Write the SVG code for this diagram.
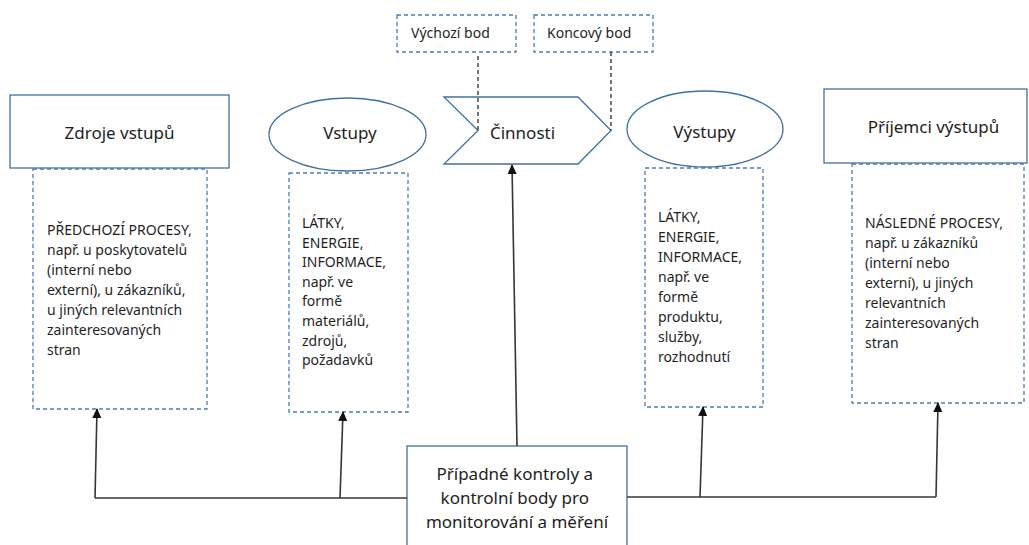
<svg xmlns="http://www.w3.org/2000/svg" width="1029" height="545" viewBox="0 0 1029 545">
  <defs>
    <style>
      .shape { fill: #ffffff; stroke: #41719c; stroke-width: 1.3; }
      .note { fill: none; stroke: #4a7cb6; stroke-width: 1.3; stroke-dasharray: 4 3; }
      .title { font-family: "Noto Sans", "Open Sans", sans-serif; font-size: 17px; fill: #1e1e1e; text-anchor: middle; }
      .body { font-family: "Noto Sans", "Open Sans", sans-serif; font-size: 14px; fill: #1f1f1f; }
      .wire { fill: none; stroke: #363636; stroke-width: 1.6; }
      .point { fill: none; stroke: #2b2b2b; stroke-width: 1.3; stroke-dasharray: 4 3; }
    </style>
    <marker id="arrow" viewBox="0 0 10 10" refX="9" refY="5" markerWidth="10" markerHeight="10" markerUnits="userSpaceOnUse" orient="auto">
      <path d="M0,0.5 L10,5 L0,9.5 z" fill="#111111"/>
    </marker>
  </defs>
  <rect width="1029" height="545" fill="#ffffff"/>

  <!-- start / end point labels -->
  <g id="start-point">
    <rect class="note" x="397" y="15" width="119" height="37"/>
    <text class="body" x="411" y="38">Výchozí bod</text>
  </g>
  <g id="end-point">
    <rect class="note" x="534" y="15" width="119" height="37"/>
    <text class="body" x="547" y="38">Koncový bod</text>
  </g>

  <!-- column 1: sources of inputs -->
  <g id="sources">
    <rect class="shape" x="10" y="95" width="219" height="73"/>
    <text class="title" x="119.5" y="139">Zdroje vstupů</text>
  </g>
  <g id="sources-detail">
    <rect class="note" x="33" y="169" width="174" height="240"/>
    <text class="body" x="47">
      <tspan x="47" y="235">PŘEDCHOZÍ PROCESY,</tspan>
      <tspan x="47" y="255">např. u poskytovatelů</tspan>
      <tspan x="47" y="275">(interní nebo</tspan>
      <tspan x="47" y="295">externí), u zákazníků,</tspan>
      <tspan x="47" y="315">u jiných relevantních</tspan>
      <tspan x="47" y="335">zainteresovaných</tspan>
      <tspan x="47" y="355">stran</tspan>
    </text>
  </g>

  <!-- column 2: inputs -->
  <g id="inputs">
    <ellipse class="shape" cx="347.5" cy="134.5" rx="78.5" ry="36.5"/>
    <text class="title" x="350" y="139">Vstupy</text>
  </g>
  <g id="inputs-detail">
    <rect class="note" x="289" y="173" width="119" height="239"/>
    <text class="body">
      <tspan x="302" y="228">LÁTKY,</tspan>
      <tspan x="302" y="247.6">ENERGIE,</tspan>
      <tspan x="302" y="267.2">INFORMACE,</tspan>
      <tspan x="302" y="286.8">např. ve</tspan>
      <tspan x="302" y="306.4">formě</tspan>
      <tspan x="302" y="326">materiálů,</tspan>
      <tspan x="302" y="345.6">zdrojů,</tspan>
      <tspan x="302" y="365.2">požadavků</tspan>
    </text>
  </g>

  <!-- column 3: activities -->
  <g id="activities">
    <polygon class="shape" points="444,97 578,97 611,130.5 578,164 444,164 478,130.5"/>
    <text class="title" x="522.5" y="139">Činnosti</text>
  </g>

  <!-- column 4: outputs -->
  <g id="outputs">
    <ellipse class="shape" cx="705" cy="129" rx="78" ry="38"/>
    <text class="title" x="704.5" y="138">Výstupy</text>
  </g>
  <g id="outputs-detail">
    <rect class="note" x="645" y="168" width="118" height="239"/>
    <text class="body">
      <tspan x="658" y="222">LÁTKY,</tspan>
      <tspan x="658" y="242">ENERGIE,</tspan>
      <tspan x="658" y="262">INFORMACE,</tspan>
      <tspan x="658" y="282">např. ve</tspan>
      <tspan x="658" y="302">formě</tspan>
      <tspan x="658" y="322">produktu,</tspan>
      <tspan x="658" y="342">služby,</tspan>
      <tspan x="658" y="362">rozhodnutí</tspan>
    </text>
  </g>

  <!-- column 5: receivers of outputs -->
  <g id="receivers">
    <rect class="shape" x="824" y="89" width="203" height="74"/>
    <text class="title" x="933.5" y="133">Příjemci výstupů</text>
  </g>
  <g id="receivers-detail">
    <rect class="note" x="852" y="164" width="172" height="239"/>
    <text class="body">
      <tspan x="865" y="228">NÁSLEDNÉ PROCESY,</tspan>
      <tspan x="865" y="248">např. u zákazníků</tspan>
      <tspan x="865" y="268">(interní nebo</tspan>
      <tspan x="865" y="288">externí), u jiných</tspan>
      <tspan x="865" y="308">relevantních</tspan>
      <tspan x="865" y="328">zainteresovaných</tspan>
      <tspan x="865" y="348">stran</tspan>
    </text>
  </g>

  <!-- monitoring and control -->
  <g id="controls">
    <rect class="shape" x="407" y="446" width="220" height="110"/>
    <text class="title">
      <tspan x="517" y="480">Případné kontroly a</tspan>
      <tspan x="517" y="504">kontrolní body pro</tspan>
      <tspan x="517" y="528">monitorování a měření</tspan>
    </text>
  </g>

  <!-- connectors -->
  <g id="connectors">
    <line class="point" x1="478" y1="56" x2="478" y2="130.5"/>
    <line class="point" x1="611" y1="52" x2="611" y2="130.5"/>
    <polyline class="wire" points="407,498 95,498"/>
    <polyline class="wire" points="627,497 936,497"/>
    <line class="wire" x1="95" y1="498" x2="97" y2="409" marker-end="url(#arrow)"/>
    <line class="wire" x1="340" y1="498" x2="343" y2="412" marker-end="url(#arrow)"/>
    <line class="wire" x1="517" y1="446" x2="512" y2="165" marker-end="url(#arrow)"/>
    <line class="wire" x1="700" y1="497" x2="703" y2="407" marker-end="url(#arrow)"/>
    <line class="wire" x1="936" y1="497" x2="938" y2="403" marker-end="url(#arrow)"/>
  </g>
</svg>
